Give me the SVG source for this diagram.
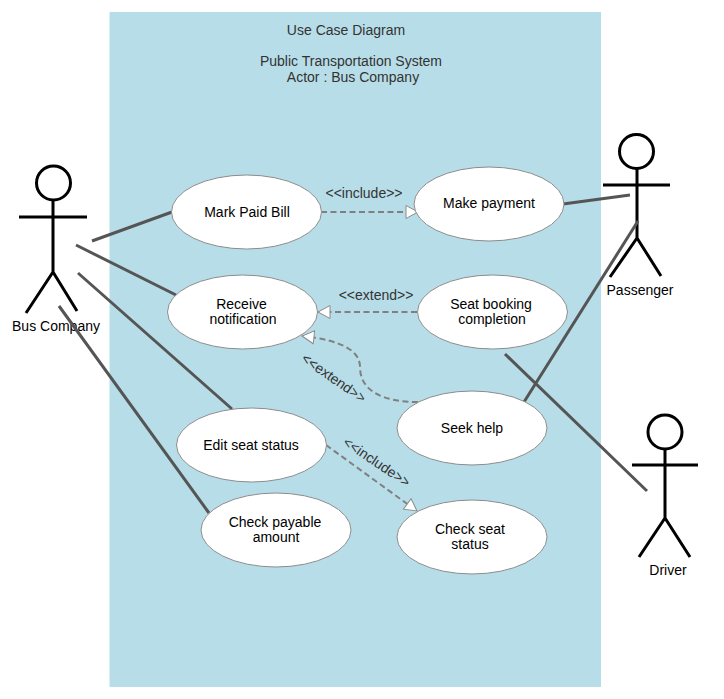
<svg xmlns="http://www.w3.org/2000/svg" width="724" height="699" viewBox="0 0 724 699">
<defs>
<marker id="tri" markerUnits="userSpaceOnUse" markerWidth="16" markerHeight="16" refX="13" refY="7.500" orient="auto"><path d="M1 1L13 7.500L1 14Z" fill="#fff" stroke="#8c8c8c" stroke-width="1"/></marker>
</defs>
<style>
text{font-family:"Liberation Sans",Arial,sans-serif;font-size:14px;fill:#000;text-anchor:middle}
.lab{fill:#333}
.uc{fill:#fff;stroke:#8c8c8c;stroke-width:1}
.a{stroke:#000;stroke-width:3;fill:none}
.l{stroke:#555;stroke-width:3;fill:none}
.d{stroke:#808080;stroke-width:2;stroke-dasharray:6 3.500;fill:none;marker-end:url(#tri)}
</style>
<rect id="system" x="109.500" y="12" width="491.500" height="675" fill="#b7dde8"/>
<g id="title"><text class="lab" x="346" y="35">Use Case Diagram</text><text class="lab" x="351" y="66">Public Transportation System</text><text class="lab" x="353" y="82">Actor : Bus Company</text></g>
<g id="actor-bus"><circle class="a" cx="53.500" cy="183" r="17"/><path class="a" d="M53 200V272M19 217H87M53 272L26 313M53 272L77 311"/><text x="56" y="331">Bus Company</text></g>
<g id="actor-passenger"><circle class="a" cx="636.500" cy="151.500" r="17"/><path class="a" d="M637 169V238M603 185H670M637 238L610 277M637 238L661 276"/><text x="640" y="295">Passenger</text></g>
<g id="actor-driver"><circle class="a" cx="665" cy="432" r="17"/><path class="a" d="M665 449V518M632 465H698M665 518L639 557M665 518L690 557"/><text x="668" y="575">Driver</text></g>
<g id="connectors">
<path class="l" d="M92 241L172 212M76 245L176 295M78 273L232 409M59 306L209 513M563 204L630 195M524 402L638 221M505 354L647 491"/>
<path class="d" d="M321 212H418"/>
<path class="d" d="M417 312H318"/>
<path class="d" d="M418 402C385 402 360 392 360 367C360 350 340 340 302 336"/>
<path class="d" d="M326 445L417 511"/>
<text class="lab" x="364" y="198">&lt;&lt;include&gt;&gt;</text>
<text class="lab" x="376" y="300">&lt;&lt;extend&gt;&gt;</text>
<text class="lab" transform="translate(331 382) rotate(35)">&lt;&lt;extend&gt;&gt;</text>
<text class="lab" transform="translate(374 466) rotate(34)">&lt;&lt;include&gt;&gt;</text>
</g>
<g id="uc1"><ellipse class="uc" cx="246.500" cy="212" rx="75" ry="37"/><text x="247" y="217">Mark Paid Bill</text></g>
<g id="uc2"><ellipse class="uc" cx="489" cy="204" rx="75" ry="37"/><text x="489" y="208">Make payment</text></g>
<g id="uc3"><ellipse class="uc" cx="242.500" cy="312" rx="75" ry="37"/><text x="241.500" y="309">Receive</text><text x="243" y="324">notification</text></g>
<g id="uc4"><ellipse class="uc" cx="492.500" cy="312" rx="75" ry="37"/><text x="491" y="309">Seat booking</text><text x="492" y="324">completion</text></g>
<g id="uc5"><ellipse class="uc" cx="472" cy="428" rx="75" ry="37"/><text x="472" y="433">Seek help</text></g>
<g id="uc6"><ellipse class="uc" cx="251.500" cy="445" rx="75" ry="37"/><text x="251" y="450">Edit seat status</text></g>
<g id="uc7"><ellipse class="uc" cx="276" cy="530" rx="75" ry="37"/><text x="275" y="527">Check payable</text><text x="276" y="542">amount</text></g>
<g id="uc8"><ellipse class="uc" cx="472" cy="537" rx="75" ry="37"/><text x="470" y="534">Check seat</text><text x="470" y="549">status</text></g>
</svg>
